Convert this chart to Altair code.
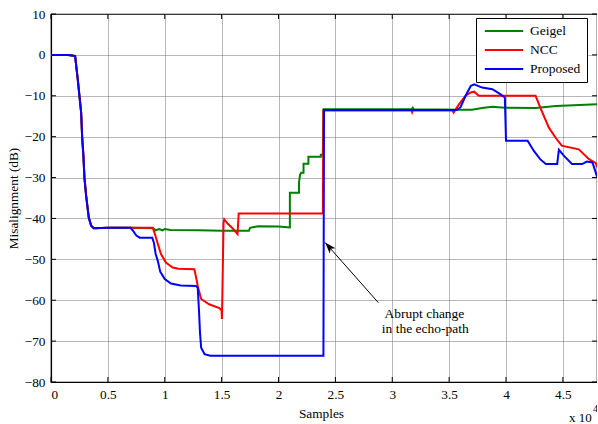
import altair as alt
import pandas as pd

# ---- data (x in units of 10^4 samples, y in dB) ----
common_x = [0, 0.15, 0.2, 0.212, 0.235, 0.25, 0.265, 0.274, 0.285, 0.294, 0.309, 0.332, 0.353, 0.376, 0.5, 0.7]
common_y = [0, 0, -0.2, -0.3, -5.9, -10, -14.1, -20.2, -24.7, -30, -34.5, -39.8, -41.8, -42.4, -42.3, -42.3]

geigel_x = [0.9, 0.92, 0.95, 0.98, 1.0, 1.05, 1.3, 1.5, 1.74, 1.75, 1.82, 2.0, 2.10, 2.10, 2.18,
            2.18, 2.19, 2.2, 2.22, 2.22, 2.263, 2.263, 2.372, 2.372, 2.39, 2.395, 3.17, 3.18, 3.19,
            3.6, 3.7, 3.79, 3.88, 3.99, 4.26, 4.44, 4.8]
geigel_y = [-42.4, -42.9, -42.6, -42.9, -42.6, -42.8, -42.9, -43.0, -43.0, -42.3, -41.9, -42.0, -42.2, -33.7, -33.7,
            -31.2, -29.3, -28.8, -28.8, -26.6, -26.6, -24.9, -24.9, -24.4, -24.4, -13.3, -13.3, -12.9, -13.3,
            -13.4, -13.4, -13.0, -12.7, -12.9, -13.0, -12.5, -12.1]

ncc_x = [0.894, 0.91, 0.94, 0.967, 1.01, 1.07, 1.12, 1.26, 1.28, 1.29, 1.32, 1.39, 1.48, 1.50, 1.503,
         1.517, 1.523, 1.55, 1.596, 1.64, 1.65, 2.39, 2.395, 3.17, 3.175, 3.18, 3.53, 3.54, 3.586,
         3.645, 3.69, 3.72, 3.76, 4.26, 4.32, 4.377, 4.435, 4.49, 4.64, 4.73, 4.79, 4.8]
ncc_y = [-42.3, -43.5, -46.3, -48.7, -50.8, -52.0, -52.3, -52.4, -55.0, -56.5, -59.7, -61.0, -61.9, -62.5, -64.6,
         -41.0, -40.2, -41.2, -42.4, -43.8, -38.8, -38.8, -13.6, -13.6, -14.0, -13.6, -13.6, -14.1, -12.1,
         -10.0, -9.2, -9.0, -10.0, -10.0, -14.1, -17.8, -20.2, -22.2, -23.1, -25.5, -26.5, -27.5]

prop_x = [0.72, 0.75, 0.78, 0.89, 0.905, 0.92, 0.94, 0.96, 1.0, 1.055, 1.14, 1.275, 1.29, 1.30, 1.31,
          1.32, 1.35, 1.40, 2.395, 2.40, 3.57, 3.60, 3.645, 3.69, 3.72, 3.79, 3.88, 3.95, 3.99, 4.0,
          4.19, 4.245, 4.30, 4.35, 4.45, 4.465, 4.51, 4.58, 4.67, 4.71, 4.76, 4.78, 4.8]
prop_y = [-43.0, -44.2, -44.7, -44.7, -46.0, -48.7, -50.5, -53.0, -54.8, -55.9, -56.4, -56.5, -57.0, -62.0, -68.0,
          -71.6, -73.2, -73.6, -73.6, -13.5, -13.5, -12.8, -10.0, -7.6, -7.2, -8.0, -8.4, -9.6, -10.4, -21.0,
          -21.0, -23.5, -25.5, -26.7, -26.7, -23.2, -24.7, -26.7, -26.7, -26.1, -26.3, -28.0, -29.8]

series_names = ["Geigel", "NCC", "Proposed"]
series_colors = ["#008000", "#FF0000", "#0000FF"]

x_ticks = [0, 0.5, 1, 1.5, 2, 2.5, 3, 3.5, 4, 4.5]
y_ticks = [-80, -70, -60, -50, -40, -30, -20, -10, 0, 10]

annot_text = ["Abrupt change", "in the echo-path"]
annot_x = [3.283, 3.29]
annot_y = [-63.4, -67.0]
arrow_tail = (2.878, -60.6)
arrow_tip = (2.41, -45.9)

X_MIN, X_MAX = 0, 4.8
Y_MIN, Y_MAX = -80, 10

# ---- build table ----
rows = []
for name, xs, ys in [("Geigel", geigel_x, geigel_y), ("NCC", ncc_x, ncc_y), ("Proposed", prop_x, prop_y)]:
    allx = common_x + xs
    ally = common_y + ys
    for i, (a, b) in enumerate(zip(allx, ally)):
        rows.append({"x": a, "y": b, "alg": name, "i": i})
df = pd.DataFrame(rows)

FONT = "Liberation Serif"

xscale = alt.Scale(domain=[X_MIN, X_MAX], nice=False, zero=False)
yscale = alt.Scale(domain=[Y_MIN, Y_MAX], nice=False, zero=False)

lines = alt.Chart(df).mark_line(strokeWidth=2, clip=True).encode(
    x=alt.X("x:Q", scale=xscale,
            axis=alt.Axis(values=x_ticks, title="Samples", labelExpr="datum.value",
                          titleX=270, titleY=31, titleBaseline="middle", titleAlign="center")),
    y=alt.Y("y:Q", scale=yscale,
            axis=alt.Axis(values=y_ticks, title="Misalignment (dB)",
                          titleX=-38, titleY=184, titleAngle=-90, titleBaseline="middle",
                          titleAlign="center")),
    color=alt.Color("alg:N", scale=alt.Scale(domain=series_names, range=series_colors),
                    legend=alt.Legend(title=None, orient="none", legendX=425, legendY=4)),
    order="i:Q",
)

# inward (MATLAB-style) ticks on all four sides of the box
xt_df = pd.DataFrame({"x": x_ticks})
yt_df = pd.DataFrame({"y": y_ticks})
tick_b = alt.Chart(xt_df).mark_rule(color="black", strokeWidth=1).encode(
    x=alt.X("x:Q", scale=xscale), y=alt.value(368), y2=alt.value(363))
tick_t = alt.Chart(xt_df).mark_rule(color="black", strokeWidth=1).encode(
    x=alt.X("x:Q", scale=xscale), y=alt.value(0), y2=alt.value(5))
tick_l = alt.Chart(yt_df).mark_rule(color="black", strokeWidth=1).encode(
    y=alt.Y("y:Q", scale=yscale), x=alt.value(0), x2=alt.value(5))
tick_r = alt.Chart(yt_df).mark_rule(color="black", strokeWidth=1).encode(
    y=alt.Y("y:Q", scale=yscale), x=alt.value(546), x2=alt.value(541))

ann_df = pd.DataFrame({"x": annot_x, "y": annot_y, "t": annot_text})
ann = alt.Chart(ann_df).mark_text(font=FONT, fontSize=13.5, color="black", align="center",
                                  baseline="middle").encode(
    x=alt.X("x:Q", scale=xscale), y=alt.Y("y:Q", scale=yscale), text="t:N")

arr_df = pd.DataFrame({"x": [arrow_tail[0]], "y": [arrow_tail[1]],
                       "x2": [arrow_tip[0]], "y2": [arrow_tip[1]]})
arrow_line = alt.Chart(arr_df).mark_rule(color="black", strokeWidth=1).encode(
    x=alt.X("x:Q", scale=xscale), y=alt.Y("y:Q", scale=yscale), x2="x2:Q", y2="y2:Q")
head_df = pd.DataFrame({"x": [arrow_tip[0]], "y": [arrow_tip[1]]})
arrow_head = alt.Chart(head_df).mark_point(
    shape="M0,0L0.35,1L0,0.75L-0.35,1Z", size=500, filled=True, color="black",
    opacity=1, angle=318).encode(x=alt.X("x:Q", scale=xscale), y=alt.Y("y:Q", scale=yscale))

exp_df = pd.DataFrame({"t": ["x 10"]})
exp1 = alt.Chart(exp_df).mark_text(font=FONT, fontSize=13, color="black", align="left",
                                   baseline="alphabetic").encode(
    x=alt.value(518), y=alt.value(408), text="t:N")
exp2 = alt.Chart(pd.DataFrame({"t": ["4"]})).mark_text(font=FONT, fontSize=10, color="black",
                                                       align="left", baseline="alphabetic").encode(
    x=alt.value(542), y=alt.value(398), text="t:N")

chart = alt.layer(tick_b, tick_t, tick_l, tick_r, lines, arrow_line, arrow_head, ann, exp1, exp2).properties(
    width=546, height=368,
    padding={"left": 51, "top": 14, "right": 0, "bottom": 42},
    autosize=alt.AutoSizeParams(type="none"),
).configure_view(stroke="black", strokeWidth=1.2).configure_axis(
    labelFont=FONT, labelFontSize=13.3, labelColor="black",
    titleFont=FONT, titleFontSize=13.3, titleColor="black", titleFontWeight="normal",
    domainColor="black", domainWidth=1.2, ticks=False, labelPadding=5,
    grid=True, gridColor="#707070", gridDash=[1, 1], gridWidth=1, gridOpacity=1,
).configure_axisY(labelPadding=6).configure_legend(
    strokeColor="black", fillColor="white", padding=6, cornerRadius=0,
    symbolType="M-3.2,0L3.2,0", symbolSize=144, symbolStrokeWidth=2,
    symbolOffset=15, labelOffset=19, rowPadding=5,
    labelFont=FONT, labelFontSize=13.5, labelColor="black",
)

chart.save("out.html", embed_options={"renderer": "svg", "actions": False})
